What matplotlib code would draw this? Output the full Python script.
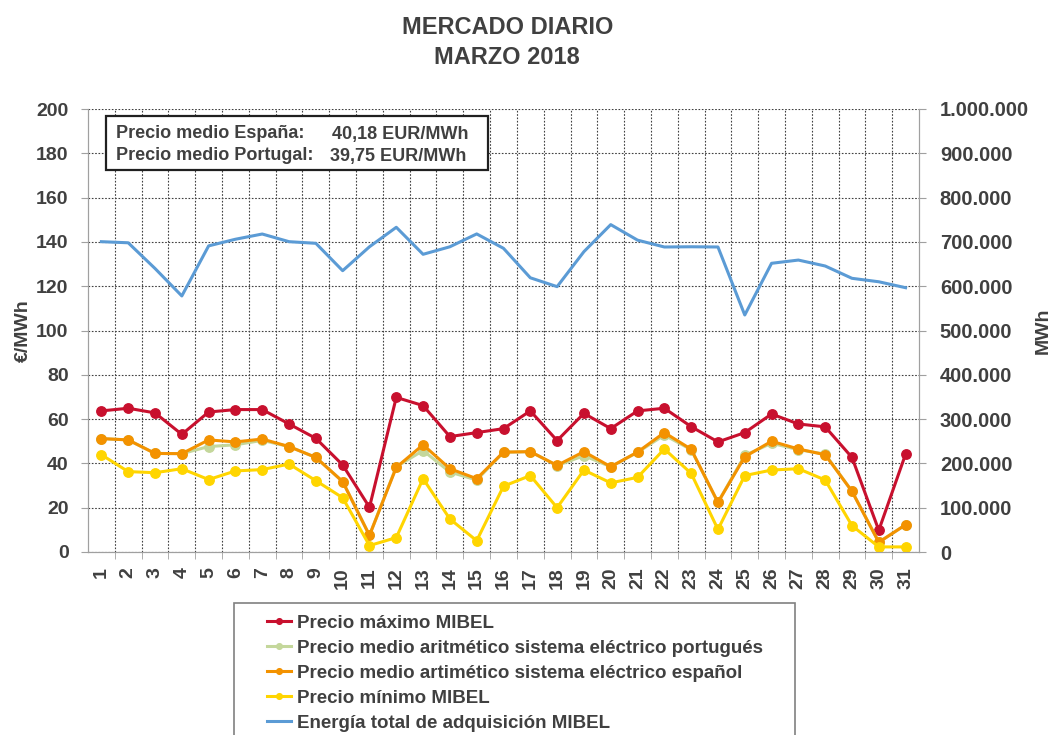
import numpy as np
import matplotlib
matplotlib.use("Agg")
import matplotlib.pyplot as plt
from matplotlib.patches import Rectangle
from matplotlib.ticker import FuncFormatter, MultipleLocator

plt.rcParams['font.family'] = ['Liberation Sans', 'DejaVu Sans']

dias = list(range(1, 32))

precio_max = [63.7, 64.9, 62.8, 53.1, 63.2, 64.3, 64.3, 57.8, 51.3, 39.3,
              20.2, 69.8, 66.1, 52.1, 53.9, 55.7, 63.7, 50.3, 62.6, 55.7,
              63.7, 64.9, 56.6, 49.7, 53.9, 62.3, 57.8, 56.5, 42.7, 9.8, 44.2]
precio_pt = [51.2, 50.6, 44.5, 44.4, 47.6, 48.4, 50.4, 47.6, 42.7, 31.8,
             7.5, 38.5, 45.8, 36.1, 32.5, 45.0, 45.3, 39.0, 43.5, 38.5,
             45.0, 52.8, 46.2, 22.4, 43.6, 49.1, 46.2, 44.2, 27.4, 4.4, 12.3]
precio_es = [51.2, 50.6, 44.5, 44.4, 50.6, 49.7, 51.0, 47.6, 42.7, 31.8,
             7.5, 38.2, 48.4, 37.6, 33.1, 45.1, 45.3, 39.1, 45.3, 38.5,
             45.1, 53.9, 46.4, 22.4, 43.0, 50.0, 46.5, 43.9, 27.4, 4.4, 12.3]
precio_min = [43.9, 36.3, 35.8, 37.6, 32.7, 36.6, 37.2, 39.7, 32.2, 24.5,
              2.9, 6.5, 33.1, 14.9, 5.1, 29.7, 34.5, 20.0, 37.0, 31.2,
              33.7, 46.5, 35.5, 10.2, 34.5, 37.0, 37.6, 32.5, 11.9, 2.3, 2.3]
energia = [700500, 698000, 640000, 578000, 691000, 706000, 717800, 700500, 696800, 635000,
           689000, 733000, 672000, 689000, 718000, 685500, 619000, 599000, 678000, 739000,
           704000, 688500, 689000, 688500, 535000, 651700, 659000, 645600, 617800, 610000, 596600]

txt = '#404040'
fs = 14

fig = plt.figure(figsize=(10.59, 7.35), dpi=100)
ax = fig.add_axes([88/1059, 1-552/735, (919-88)/1059, (552-109)/735])
ax2 = ax.twinx()

lw = 2.2
ms = 6.8
ax.plot(dias, precio_max, color='#C8102E', lw=lw, marker='o', ms=ms, label='Precio máximo MIBEL', zorder=3)
ax.plot(dias, precio_pt, color='#C4D79B', lw=lw, marker='o', ms=ms,
        label='Precio medio aritmético sistema eléctrico portugués', zorder=3)
ax.plot(dias, precio_es, color='#F39200', lw=lw, marker='o', ms=ms,
        label='Precio medio artimético sistema eléctrico español', zorder=3)
ax.plot(dias, precio_min, color='#FFD500', lw=lw, marker='o', ms=ms, label='Precio mínimo MIBEL', zorder=3)
ax2.plot(dias, energia, color='#5B9BD5', lw=2.2, label='Energía total de adquisición MIBEL')

ax.set_xlim(0.5, 31.5)
ax.set_ylim(0, 200)
ax2.set_ylim(0, 1000000)
ax.yaxis.set_major_locator(MultipleLocator(20))
ax2.yaxis.set_major_locator(MultipleLocator(100000))
ax2.yaxis.set_major_formatter(FuncFormatter(lambda v, p: f'{int(v):,}'.replace(',', '.')))

ax.set_xticks(dias)
ax.set_xticks(np.arange(1.5, 31.5, 1), minor=True)
ax.set_xticklabels([str(d) for d in dias], rotation=90)
ax.tick_params(axis='x', which='major', length=0, pad=11)
ax.tick_params(axis='x', which='minor', length=5, color='#a0a0a0', direction='out')
ax.grid(True, axis='x', which='minor', color='#404040', ls=(0, (1.5, 1.5)), lw=0.8)
ax.grid(True, axis='y', which='major', color='#404040', ls=(0, (1.5, 1.5)), lw=0.8)
ax.set_axisbelow(True)
ax.tick_params(axis='y', length=5, color='#a0a0a0', pad=9)
ax2.tick_params(axis='y', length=5, color='#a0a0a0', pad=10)

for a in (ax, ax2):
    for lab in a.get_xticklabels() + a.get_yticklabels():
        lab.set_fontsize(fs)
        lab.set_fontweight('bold')
        lab.set_color(txt)
    for s in a.spines.values():
        s.set_color('#a0a0a0')
    a.spines['top'].set_visible(False)
for lab in ax2.get_yticklabels():
    lab.set_fontsize(14.5)

ax.set_ylabel('€/MWh', fontsize=fs, fontweight='bold', color=txt, labelpad=3)
ax2.set_ylabel('MWh', fontsize=fs, fontweight='bold', color=txt, labelpad=4)

fig.text(0.479, 0.978, 'MERCADO DIARIO\nMARZO 2018', ha='center', va='top', fontsize=17,
         fontweight='bold', color=txt, linespacing=1.4)

# recuadro de precios medios
fig.patches.append(Rectangle((106/1059, 1-170/735), (488-106)/1059, (170-116)/735,
                             transform=fig.transFigure, fill=True, facecolor='white',
                             edgecolor='#202020', lw=1.6, zorder=5))
bfs = 13
fig.text(116/1059, 1-134/735, 'Precio medio España:', fontsize=bfs, fontweight='bold', color=txt,
         va='center', zorder=6)
fig.text(116/1059, 1-156/735, 'Precio medio Portugal:', fontsize=bfs, fontweight='bold', color=txt,
         va='center', zorder=6)
fig.text(332/1059, 1-134/735, '40,18 EUR/MWh', fontsize=bfs, fontweight='bold', color=txt,
         va='center', zorder=6)
fig.text(330/1059, 1-156/735, '39,75 EUR/MWh', fontsize=bfs, fontweight='bold', color=txt,
         va='center', zorder=6)

# leyenda
fig.patches.append(Rectangle((234/1059, -0.05), (795-234)/1059, 0.05 + (735-603)/735,
                             transform=fig.transFigure, fill=False, edgecolor='#808080', lw=1.2))
h1, l1 = ax.get_legend_handles_labels()
h2, l2 = ax2.get_legend_handles_labels()
leg = fig.legend(h1 + h2, l1 + l2, loc='upper left', bbox_to_anchor=(250/1059, 1-598/735),
                 frameon=False, fontsize=13.5, handlelength=1.3, handletextpad=0.3,
                 labelspacing=0.42, markerscale=0.6)
for t in leg.get_texts():
    t.set_fontweight('bold')
    t.set_color(txt)

fig.savefig('out.png', dpi=100)
